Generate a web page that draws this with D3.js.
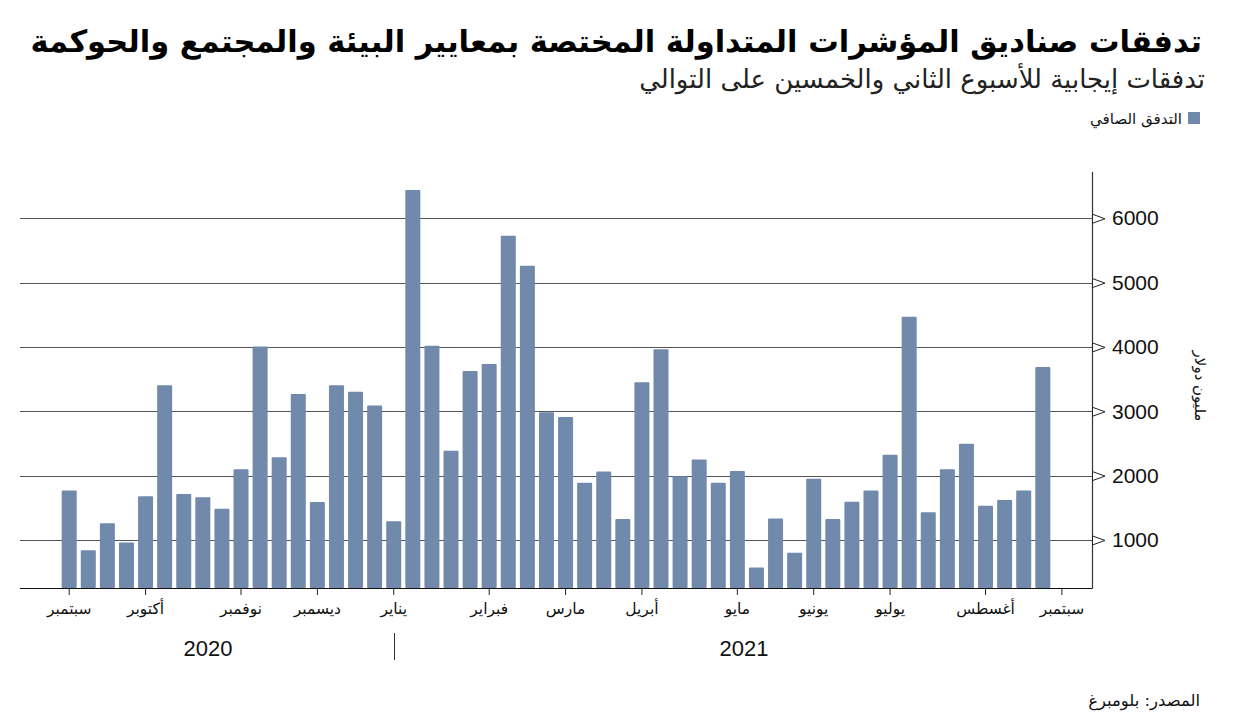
<!DOCTYPE html>
<html><head><meta charset="utf-8">
<script src="https://cdn.jsdelivr.net/npm/d3@7"></script>
<style>body{margin:0;background:#fff}svg{display:block}</style>
</head><body>
<svg id="chart" width="1240" height="720"></svg>
<script>
// ---- data ----
const weeks = ["2020-09-04","2020-09-11","2020-09-18","2020-09-25","2020-10-02","2020-10-09","2020-10-16","2020-10-23","2020-10-30",
"2020-11-06","2020-11-13","2020-11-20","2020-11-27","2020-12-04","2020-12-11","2020-12-18","2020-12-25",
"2021-01-01","2021-01-08","2021-01-15","2021-01-22","2021-01-29","2021-02-05","2021-02-12","2021-02-19","2021-02-26",
"2021-03-05","2021-03-12","2021-03-19","2021-03-26","2021-04-02","2021-04-09","2021-04-16","2021-04-23","2021-04-30",
"2021-05-07","2021-05-14","2021-05-21","2021-05-28","2021-06-04","2021-06-11","2021-06-18","2021-06-25",
"2021-07-02","2021-07-09","2021-07-16","2021-07-23","2021-07-30","2021-08-06","2021-08-13","2021-08-20","2021-08-27","2021-09-03"];
const netFlow = [1770,840,1260,960,1680,3405,1715,1665,1485,2100,4005,2285,3270,1590,3405,3305,3090,1290,6440,4020,2385,3625,3735,5730,5260,2985,2910,1890,2065,1325,3450,3965,1990,2250,1890,2070,570,1335,800,1950,1325,1595,1770,2325,4470,1430,2100,2495,1530,1620,1770,3690,null];
const monthTickWeeks = ["2020-09-04","2020-10-02","2020-11-06","2020-12-04","2021-01-01","2021-02-05","2021-03-05","2021-04-02","2021-05-07","2021-06-04","2021-07-02","2021-08-06","2021-09-03"];
const monthTickLabels = ["سبتمبر","أكتوبر","نوفمبر","ديسمبر","يناير","فبراير","مارس","أبريل","مايو","يونيو","يوليو","أغسطس","سبتمبر"];
const years = ["2020","2021"];
const yearStartWeeks = ["2020-09-04","2021-01-01"];
const yTicks = [1000,2000,3000,4000,5000,6000];
const titleText = "تدفقات صناديق المؤشرات المتداولة المختصة بمعايير البيئة والمجتمع والحوكمة";
const subtitleText = "تدفقات إيجابية للأسبوع الثاني والخمسين على التوالي";
const legendText = "التدفق الصافي";
const yTitle = "مليون دولار";
const sourceText = "المصدر: بلومبرغ";

// ---- setup ----
const svg = d3.select("#chart");
const AR = "'DejaVu Sans', 'Noto Sans', sans-serif";
const NUM = "'Liberation Sans', Arial, sans-serif";
const barColor = "#7189ab";
const ink = "#111";
const plotL = 20, plotR = 1092, plotT = 172, plotB = 588;

const x = d3.scaleBand().domain(weeks).range([61.7, 1069.4]).paddingInner(0.214).paddingOuter(0);
const y = d3.scaleLinear().domain([253, 6719]).range([plotB, plotT]);

function fit(sel, target){
  const n = sel.node();
  const len = n.getComputedTextLength();
  const fs = parseFloat(sel.attr("font-size"));
  if (len > 0) sel.attr("font-size", (fs * target / len).toFixed(2));
}

// gridlines
svg.append("g").selectAll("line").data(yTicks).join("line")
  .attr("x1", plotL).attr("x2", plotR)
  .attr("y1", d => Math.round(y(d)) + 0.5).attr("y2", d => Math.round(y(d)) + 0.5)
  .attr("stroke", "#555").attr("stroke-width", 1);

// bars
svg.append("g").selectAll("rect").data(weeks.map((w,i)=>({w, v: netFlow[i]})).filter(d=>d.v!=null)).join("rect")
  .attr("x", d => x(d.w)).attr("width", x.bandwidth())
  .attr("y", d => y(d.v)).attr("height", d => plotB - y(d.v))
  .attr("rx", 1).attr("fill", barColor);

// axes lines
svg.append("line").attr("x1", plotL).attr("x2", plotR + 0.5).attr("y1", plotB + 0.5).attr("y2", plotB + 0.5).attr("stroke", ink).attr("stroke-width", 1.2);
svg.append("line").attr("x1", plotR + 0.5).attr("x2", plotR + 0.5).attr("y1", plotT).attr("y2", plotB + 0.5).attr("stroke", "#333").attr("stroke-width", 1.2);

// y axis via d3.axisRight
const yAxis = svg.append("g").attr("transform", `translate(${plotR},0)`)
  .call(d3.axisRight(y).tickValues(yTicks).tickSize(0).tickPadding(20).tickFormat(d3.format("d")));
yAxis.select(".domain").remove();
yAxis.selectAll("text").attr("font-family", NUM).attr("font-size", 21).attr("fill", ink);
yAxis.selectAll(".tick").append("path")
  .attr("d", "M0.5,-4.5 L13,0 L0.5,4.5 Z").attr("fill", "#fff").attr("stroke", "#222").attr("stroke-width", 1);

// x axis via d3.axisBottom with ticks at month-start weeks
const xAxis = svg.append("g").attr("transform", `translate(0,${plotB})`)
  .call(d3.axisBottom(x).tickValues(monthTickWeeks).tickSize(7).tickPadding(8)
    .tickFormat((d) => monthTickLabels[monthTickWeeks.indexOf(d)]));
xAxis.select(".domain").remove();
xAxis.selectAll("line").attr("stroke", "#222");
xAxis.selectAll("text").attr("font-family", AR).attr("font-size", 15.5).attr("fill", ink);

// year labels & separator
const yearCenters = [208, 744];
svg.append("g").selectAll("text").data(years).join("text")
  .attr("x", (d,i) => yearCenters[i]).attr("y", 656)
  .attr("text-anchor", "middle").attr("font-family", NUM).attr("font-size", 22).attr("fill", ink).text(d => d);
const sepX = x(yearStartWeeks[1]) + x.bandwidth()/2;
svg.append("line").attr("x1", Math.round(sepX)+0.5).attr("x2", Math.round(sepX)+0.5).attr("y1", 633).attr("y2", 660).attr("stroke", "#333");

// y title
svg.append("text").attr("transform", "translate(1195,386) rotate(90)")
  .attr("text-anchor", "middle").attr("font-family", AR).attr("font-size", 15).attr("fill", ink).text(yTitle);

// title, subtitle
const t = svg.append("text").attr("x", 1202).attr("y", 52).attr("text-anchor", "end")
  .attr("font-family", AR).attr("font-weight", "bold").attr("font-size", 30).attr("fill", "#000").text(titleText);
fit(t, 1172);
const st = svg.append("text").attr("x", 1205).attr("y", 88).attr("text-anchor", "end")
  .attr("font-family", AR).attr("font-size", 22).attr("fill", "#222").text(subtitleText);
fit(st, 566);

// legend
svg.append("rect").attr("x", 1188).attr("y", 112).attr("width", 12).attr("height", 12).attr("fill", barColor);
const lt = svg.append("text").attr("x", 1182).attr("y", 124).attr("text-anchor", "end")
  .attr("font-family", AR).attr("font-size", 15).attr("fill", ink).text(legendText);
fit(lt, 92);

// source
const so = svg.append("text").attr("x", 1200).attr("y", 706).attr("text-anchor", "end")
  .attr("font-family", AR).attr("font-size", 15).attr("fill", ink).text(sourceText);
fit(so, 112);
</script>
</body></html>
